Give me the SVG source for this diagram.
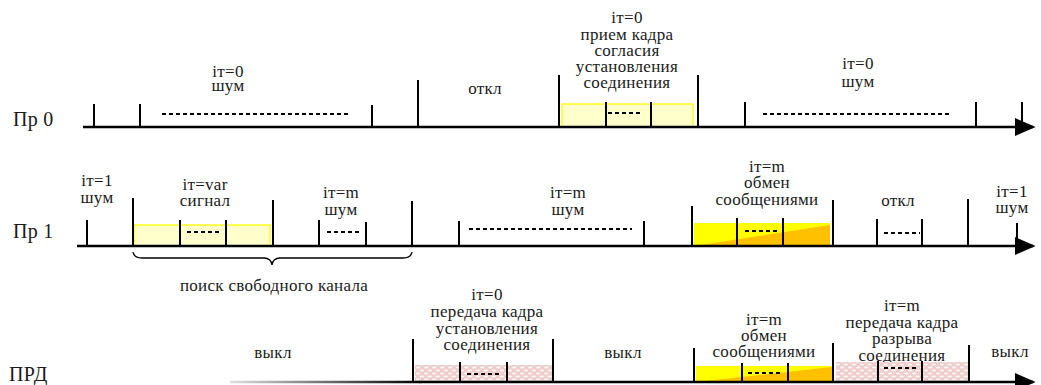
<svg xmlns="http://www.w3.org/2000/svg" width="1041" height="385" viewBox="0 0 1041 385">
<style>
text{font-family:'Liberation Serif','Times New Roman',serif;fill:#1a1a1a;text-anchor:middle;font-size:17px;letter-spacing:0.3px}
.lbl{font-size:20px;text-anchor:start;letter-spacing:0.3px}
.ax{stroke:#000;stroke-width:2.6;fill:none}
.tk{stroke:#000;stroke-width:2;fill:none}
.ds{stroke:#000;stroke-width:2;stroke-dasharray:4 3;fill:none}
.ly{fill:#ffffcc;stroke:#ffff00;stroke-width:1.3}
.yo{fill:#ffff00}
.or{fill:#ffc000}
.pk{fill:url(#pink)}
.br{stroke:#000;stroke-width:1.3;fill:none}
</style>
<defs>
<marker id="arr" markerWidth="8" markerHeight="7" refX="7" refY="3.5" orient="auto" markerUnits="strokeWidth">
<path d="M0,0 L8,3.5 L0,7 z" fill="#000"/>
</marker>
<pattern id="pink" width="8" height="6" patternUnits="userSpaceOnUse">
<rect width="8" height="6" fill="#efcdcd"/>
<ellipse cx="2" cy="1.5" rx="2.4" ry="0.9" fill="#fff" opacity="0.85"/>
<ellipse cx="6" cy="4.5" rx="2.4" ry="0.9" fill="#fff" opacity="0.85"/>
</pattern>
<linearGradient id="fade" x1="230" y1="0" x2="420" y2="0" gradientUnits="userSpaceOnUse">
<stop offset="0" stop-color="#e0e0e0"/>
<stop offset="1" stop-color="#000"/>
</linearGradient>
</defs>

<g id="labels">
<text class="lbl" x="13" y="126">Пр 0</text>
<text class="lbl" x="13" y="238">Пр 1</text>
<text class="lbl" x="9" y="381">ПРД</text>
</g>

<g id="row0">
<g id="r0-noise1"><text x="228" y="77">iт=0</text><text x="228" y="91">шум</text></g>
<g id="r0-off"><text x="485" y="94">откл</text></g>
<g id="r0-frame">
<text x="627" y="23">iт=0</text><text x="627" y="40">прием кадра</text><text x="627" y="56">согласия</text><text x="627" y="72">установления</text><text x="627" y="88">соединения</text>
<rect class="ly" x="562" y="104" width="131" height="23"/>
</g>
<g id="r0-noise2"><text x="858" y="69">iт=0</text><text x="858" y="87">шум</text></g>
</g>

<g id="row1">
<g id="r1-noise1"><text x="97" y="186">iт=1</text><text x="97" y="203">шум</text></g>
<g id="r1-signal"><text x="205" y="190">iт=var</text><text x="205" y="206">сигнал</text>
<rect class="ly" x="134" y="225" width="136" height="21"/></g>
<g id="r1-noise2"><text x="341" y="198">iт=m</text><text x="341" y="215">шум</text></g>
<g id="r1-noise3"><text x="568" y="198">iт=m</text><text x="568" y="215">шум</text></g>
<g id="r1-exchange"><text x="767" y="172">iт=m</text><text x="767" y="188">обмен</text><text x="767" y="205">сообщениями</text>
<rect class="yo" x="694" y="223" width="136" height="23"/><polygon class="or" points="694,246 830,225 830,246"/></g>
<g id="r1-off"><text x="898" y="206">откл</text></g>
<g id="r1-noise4"><text x="1012" y="197">iт=1</text><text x="1012" y="213">шум</text></g>
<g id="r1-search"><path class="br" d="M133,252 Q134,258 142,258 L264,258 Q271,258 272,265 Q273,258 280,258 L403,258 Q411,258 412,252"/>
<text x="274" y="291">поиск свободного канала</text></g>
</g>

<g id="row2">
<g id="r2-off1"><text x="273" y="358">выкл</text></g>
<g id="r2-setup"><text x="487" y="300">iт=0</text><text x="487" y="317">передача кадра</text><text x="487" y="334">установления</text><text x="487" y="350">соединения</text>
<rect class="pk" x="415" y="365" width="137" height="17"/></g>
<g id="r2-off2"><text x="623" y="358">выкл</text></g>
<g id="r2-exchange"><text x="764" y="325">iт=m</text><text x="764" y="341">обмен</text><text x="764" y="357">сообщениями</text>
<rect class="yo" x="696" y="366" width="136" height="16"/><polygon class="or" points="696,382 832,367 832,382"/></g>
<g id="r2-release"><text x="902" y="311">iт=m</text><text x="902" y="328">передача кадра</text><text x="902" y="344">разрыва</text><text x="902" y="361">соединения</text>
<rect class="pk" x="836" y="362" width="132" height="20"/></g>
<g id="r2-off3"><text x="1010" y="357">выкл</text></g>
</g>

<g id="connectors">
<line class="ax" x1="83" y1="127" x2="1033" y2="127" marker-end="url(#arr)"/>
<line class="ax" x1="77" y1="246" x2="1033" y2="246" marker-end="url(#arr)"/>
<line x1="230" y1="382" x2="420" y2="382" stroke="url(#fade)" stroke-width="2.6"/>
<line class="ax" x1="419" y1="382" x2="1033" y2="382" marker-end="url(#arr)"/>
<path class="tk" d="M94,104V127 M140,104V127 M372,105V127 M418,80V127 M559,75V127 M606,102V127 M651,102V127 M698,75V127 M745,102V127 M976,102V127 M1022,102V127"/>
<path class="ds" d="M162,114H350 M608,113H643 M763,114H950"/>
<path class="tk" d="M87,220V246 M133,198V246 M180,220V246 M226,220V246 M273,200V246 M319,220V246 M366,222V246 M412,201V246 M459,221V246 M644,221V246 M692,206V246 M737,218V246 M783,218V246 M833,200V246 M877,219V246 M922,219V246 M968,199V246 M1017,223V246"/>
<path class="ds" d="M187,232H222 M327,232H362 M469,229H632 M745,231H778 M884,233H920"/>
<path class="tk" d="M413,339V382 M460,362V382 M507,362V382 M553,339V382 M694,348V382 M742,363V382 M788,363V382 M833,343V382 M878,361V382 M922,361V382 M969,345V382"/>
<path class="ds" d="M467,374H502 M748,373H783 M884,368H917"/>
</g>
</svg>
